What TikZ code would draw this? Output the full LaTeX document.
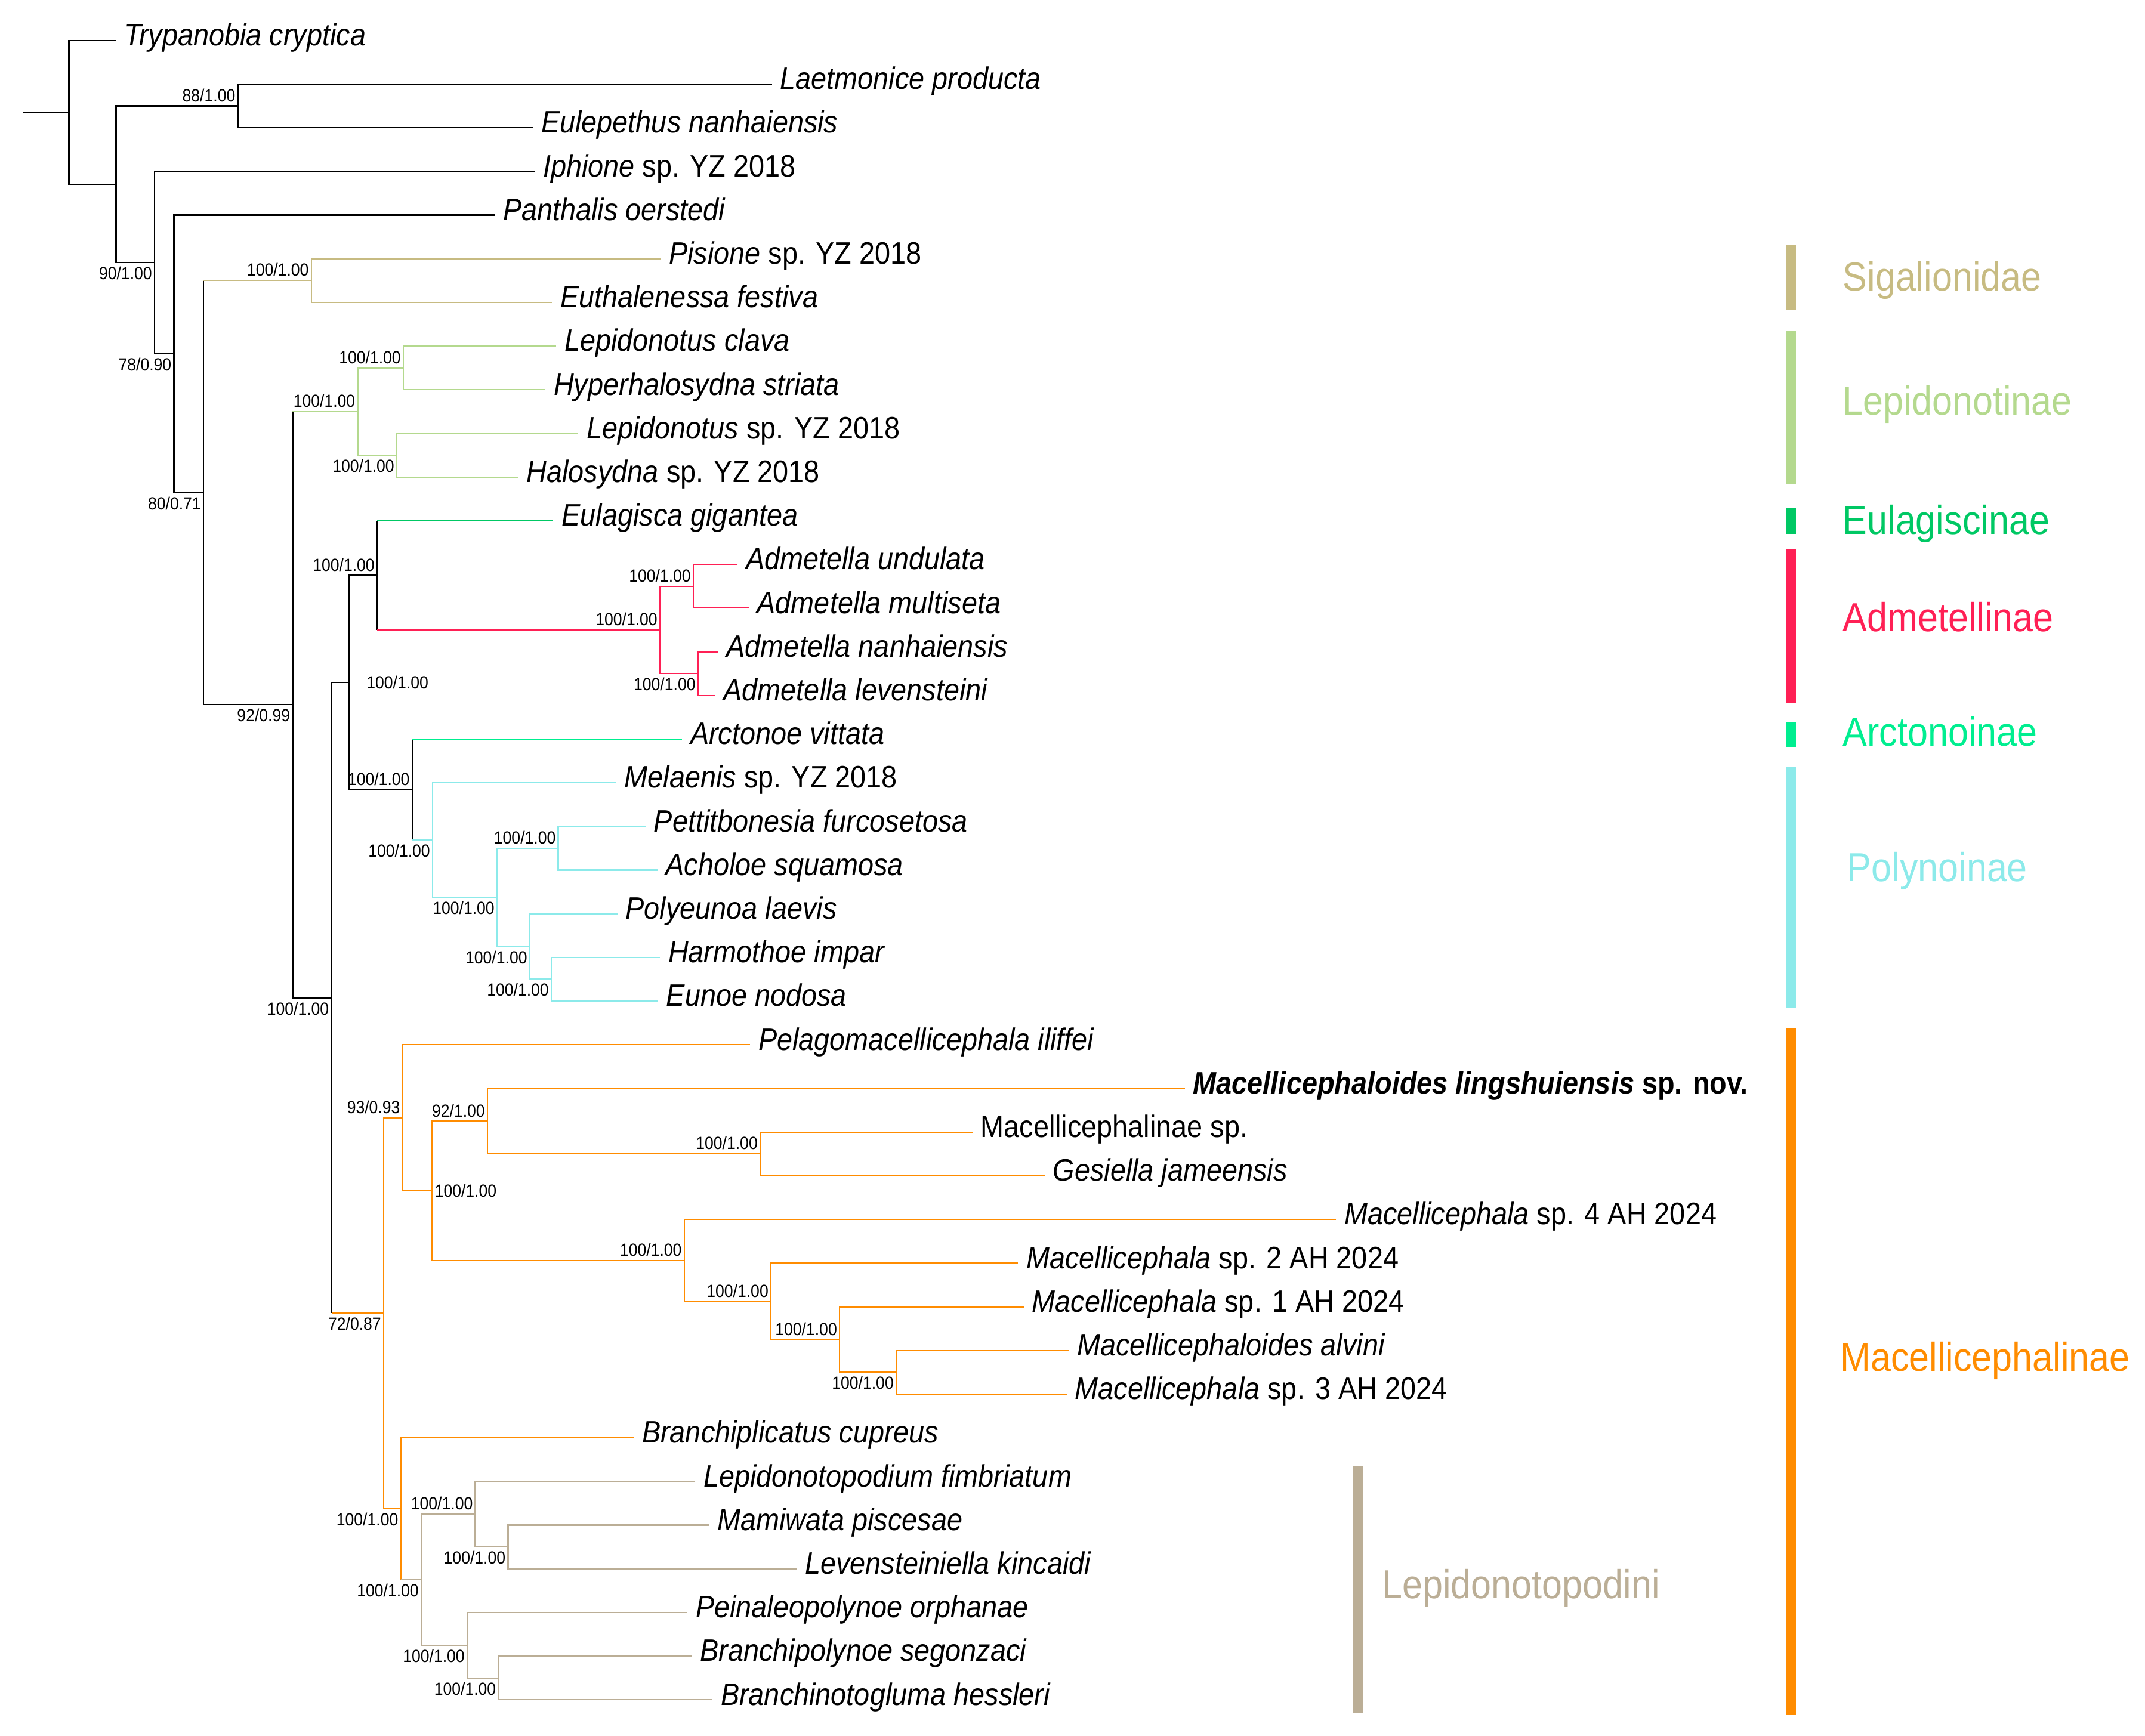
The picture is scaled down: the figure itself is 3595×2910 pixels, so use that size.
\documentclass[tikz,border=0pt]{standalone}
\usepackage{fontspec}
\setmainfont{Liberation Sans}[FakeStretch=0.9]
\definecolor{sigal}{RGB}{199,187,130}
\definecolor{lepid}{RGB}{180,217,142}
\definecolor{eulag}{RGB}{0,200,100}
\definecolor{admet}{RGB}{255,32,85}
\definecolor{arcto}{RGB}{0,238,144}
\definecolor{polyn}{RGB}{140,234,234}
\definecolor{macel}{RGB}{255,140,0}
\definecolor{lepto}{RGB}{187,174,150}
\begin{document}
\begin{tikzpicture}[x=0.01cm, y=-0.01cm,
    taxon/.style={anchor=west, inner xsep=3.8pt, inner ysep=0pt,
      text height=0.8em, text depth=0.3em, font=\fontsize{14.8}{16}\selectfont},
    sup/.style={inner xsep=1pt, inner ysep=1.8pt, font=\fontsize{8.4}{9}\selectfont},
    clade/.style={anchor=west, inner sep=0pt, text height=0.72em, text depth=0pt,
      font=\fontsize{19.3}{21}\selectfont}]
  \useasboundingbox (0,0) rectangle (3595,2910);
  % taxa
  \node[taxon] (tryp) at (194,67.7) {\textit{Trypanobia cryptica}};
  \node[taxon] (laet) at (1293.5,140.9) {\textit{Laetmonice producta}};
  \node[taxon] (eule) at (893,214.1) {\textit{Eulepethus nanhaiensis}};
  \node[taxon] (iphi) at (896,287.3) {\textit{Iphione} sp. YZ 2018};
  \node[taxon] (pant) at (829,360.5) {\textit{Panthalis oerstedi}};
  \node[taxon] (pisi) at (1107,433.7) {\textit{Pisione} sp. YZ 2018};
  \node[taxon] (euth) at (925,506.9) {\textit{Euthalenessa festiva}};
  \node[taxon] (lcla) at (932,580.1) {\textit{Lepidonotus clava}};
  \node[taxon] (hype) at (914,653.3) {\textit{Hyperhalosydna striata}};
  \node[taxon] (lesp) at (969,726.5) {\textit{Lepidonotus} sp. YZ 2018};
  \node[taxon] (halo) at (868.6,799.7) {\textit{Halosydna} sp. YZ 2018};
  \node[taxon] (eula) at (927.4,872.9) {\textit{Eulagisca gigantea}};
  \node[taxon] (aund) at (1236,946.1) {\textit{Admetella undulata}};
  \node[taxon] (amul) at (1254.6,1019.3) {\textit{Admetella multiseta}};
  \node[taxon] (anan) at (1203.6,1092.5) {\textit{Admetella nanhaiensis}};
  \node[taxon] (alev) at (1198.5,1165.7) {\textit{Admetella levensteini}};
  \node[taxon] (arct) at (1143,1238.9) {\textit{Arctonoe vittata}};
  \node[taxon] (mela) at (1032.6,1312.1) {\textit{Melaenis} sp. YZ 2018};
  \node[taxon] (pett) at (1081.8,1385.3) {\textit{Pettitbonesia furcosetosa}};
  \node[taxon] (acho) at (1101.5,1458.5) {\textit{Acholoe squamosa}};
  \node[taxon] (poly) at (1034.6,1531.7) {\textit{Polyeunoa laevis}};
  \node[taxon] (harm) at (1106,1604.9) {\textit{Harmothoe impar}};
  \node[taxon] (euno) at (1102.8,1678.1) {\textit{Eunoe nodosa}};
  \node[taxon] (pela) at (1257,1751.3) {\textit{Pelagomacellicephala iliffei}};
  \node[taxon] (mlin) at (1985.7,1824.5) {\textbf{\textit{Macellicephaloides lingshuiensis} sp. nov.}};
  \node[taxon] (masp) at (1629.5,1897.7) {Macellicephalinae sp.};
  \node[taxon] (gesi) at (1750.6,1970.9) {\textit{Gesiella jameensis}};
  \node[taxon] (mfou) at (2239,2044.1) {\textit{Macellicephala} sp. 4 AH 2024};
  \node[taxon] (mtwo) at (1706,2117.3) {\textit{Macellicephala} sp. 2 AH 2024};
  \node[taxon] (mone) at (1715.6,2190.5) {\textit{Macellicephala} sp. 1 AH 2024};
  \node[taxon] (malv) at (1791,2263.7) {\textit{Macellicephaloides alvini}};
  \node[taxon] (mthr) at (1787.6,2336.9) {\textit{Macellicephala} sp. 3 AH 2024};
  \node[taxon] (bcup) at (1062,2410.1) {\textit{Branchiplicatus cupreus}};
  \node[taxon] (lfim) at (1165,2483.3) {\textit{Lepidonotopodium fimbriatum}};
  \node[taxon] (mami) at (1188,2556.5) {\textit{Mamiwata piscesae}};
  \node[taxon] (lkin) at (1335,2629.7) {\textit{Levensteiniella kincaidi}};
  \node[taxon] (porp) at (1152,2702.9) {\textit{Peinaleopolynoe orphanae}};
  \node[taxon] (bseg) at (1159.4,2776.1) {\textit{Branchipolynoe segonzaci}};
  \node[taxon] (bhes) at (1194,2849.3) {\textit{Branchinotogluma hessleri}};
  % internal nodes
  \coordinate (root) at (38,188.3);
  \coordinate (A) at (115.4,188.3);
  \coordinate (B) at (194.5,308.85);
  \coordinate (C) at (398.6,177.5);
  \coordinate (D) at (259,440.2);
  \coordinate (E) at (291.5,593.15);
  \coordinate (F) at (341,825.8);
  \coordinate (G) at (521.7,470.3);
  \coordinate (H) at (490.4,1181.3);
  \coordinate (I) at (599.5,689.9);
  \coordinate (J) at (676,616.7);
  \coordinate (K) at (665,763.1);
  \coordinate (N) at (555.5,1672.7);
  \coordinate (M) at (585.5,1144);
  \coordinate (L) at (632,964.4);
  \coordinate (FF) at (1106,1055.9);
  \coordinate (GG) at (1162,982.7);
  \coordinate (HH) at (1169.8,1129.1);
  \coordinate (O) at (690.7,1323.55);
  \coordinate (P) at (725,1408.2);
  \coordinate (Q) at (833,1504.25);
  \coordinate (R) at (935.6,1421.9);
  \coordinate (S) at (887.8,1586.6);
  \coordinate (T) at (924,1641.5);
  \coordinate (U) at (643,2201.4);
  \coordinate (V) at (674.7,1873.7);
  \coordinate (W) at (724.5,1996.05);
  \coordinate (X) at (817,1879.4);
  \coordinate (BB) at (1274,1934.3);
  \coordinate (Y) at (1146.7,2112.7);
  \coordinate (CC) at (1292,2181.35);
  \coordinate (DD) at (1407,2245.4);
  \coordinate (EE) at (1502,2300.3);
  \coordinate (Z) at (671.6,2529.05);
  \coordinate (AA) at (706,2648);
  \coordinate (AB) at (796.6,2538.2);
  \coordinate (AC) at (851.4,2593.1);
  \coordinate (AD) at (783,2757.8);
  \coordinate (AE) at (835.5,2812.7);
  % branches
  \begin{scope}[line width=0.65pt]
    \draw (root) -- (A);
    \draw (tryp.west) -| (A) |- (B);
    \draw (C) -| (B) |- (D);
    \draw (laet.west) -| (C) |- (eule.west);
    \draw (iphi.west) -| (D) |- (E);
    \draw (pant.west) -| (E) |- (F);
    \draw (F |- G) |- (H);
    \draw[sigal] (F |- G) -- (G);
    \draw[sigal] (pisi.west) -| (G) |- (euth.west);
    \draw (H |- I) |- (N);
    \draw[lepid] (H |- I) -- (I);
    \draw[lepid] (J) -| (I) |- (K);
    \draw[lepid] (lcla.west) -| (J) |- (hype.west);
    \draw[lepid] (lesp.west) -| (K) |- (halo.west);
    \draw (M) -| (N) -- (N |- U);
    \draw[macel] (N |- U) -- (U);
    \draw (L) -| (M) |- (O);
    \draw (L |- eula.west) -- (L |- FF);
    \draw[eulag] (L |- eula.west) -- (eula.west);
    \draw[admet] (L |- FF) -- (FF);
    \draw[admet] (GG) -| (FF) |- (HH);
    \draw[admet] (aund.west) -| (GG) |- (amul.west);
    \draw[admet] (anan.west) -| (HH) |- (alev.west);
    \draw (O |- arct.west) -- (O |- P);
    \draw[arcto] (O |- arct.west) -- (arct.west);
    \draw[polyn] (O |- P) -- (P);
    \draw[polyn] (mela.west) -| (P) |- (Q);
    \draw[polyn] (R) -| (Q) |- (S);
    \draw[polyn] (pett.west) -| (R) |- (acho.west);
    \draw[polyn] (poly.west) -| (S) |- (T);
    \draw[polyn] (harm.west) -| (T) |- (euno.west);
    \draw[macel] (V) -| (U) |- (Z);
    \draw[macel] (pela.west) -| (V) |- (W);
    \draw[macel] (X) -| (W) |- (Y);
    \draw[macel] (mlin.west) -| (X) |- (BB);
    \draw[macel] (masp.west) -| (BB) |- (gesi.west);
    \draw[macel] (mfou.west) -| (Y) |- (CC);
    \draw[macel] (mtwo.west) -| (CC) |- (DD);
    \draw[macel] (mone.west) -| (DD) |- (EE);
    \draw[macel] (malv.west) -| (EE) |- (mthr.west);
    \draw[macel] (bcup.west) -| (Z) -- (Z |- AA);
    \draw[lepto] (Z |- AA) -- (AA);
    \draw[lepto] (AB) -| (AA) |- (AD);
    \draw[lepto] (lfim.west) -| (AB) |- (AC);
    \draw[lepto] (mami.west) -| (AC) |- (lkin.west);
    \draw[lepto] (porp.west) -| (AD) |- (AE);
    \draw[lepto] (bseg.west) -| (AE) |- (bhes.west);
  \end{scope}
  % support values
  \node[sup, anchor=south east] (sC) at (C) {88/1.00};
  \node[sup, anchor=north east] (sD) at (D) {90/1.00};
  \node[sup, anchor=north east] (sE) at (E) {78/0.90};
  \node[sup, anchor=north east] (sF) at (F) {80/0.71};
  \node[sup, anchor=south east] (sG) at (G) {100/1.00};
  \node[sup, anchor=north east] (sH) at (H) {92/0.99};
  \node[sup, anchor=south east] (sI) at (I) {100/1.00};
  \node[sup, anchor=south east] (sJ) at (J) {100/1.00};
  \node[sup, anchor=north east] (sK) at (K) {100/1.00};
  \node[sup, anchor=north east] (sN) at (N) {100/1.00};
  \node[sup, anchor=west, xshift=7pt] (sM) at (M) {100/1.00};
  \node[sup, anchor=south east] (sL) at (L) {100/1.00};
  \node[sup, anchor=south east] (sFF) at (FF) {100/1.00};
  \node[sup, anchor=south east] (sGG) at (GG) {100/1.00};
  \node[sup, anchor=north east] (sHH) at (HH) {100/1.00};
  \node[sup, anchor=south east] (sO) at (O) {100/1.00};
  \node[sup, anchor=north east] (sP) at (P) {100/1.00};
  \node[sup, anchor=north east] (sQ) at (Q) {100/1.00};
  \node[sup, anchor=south east] (sR) at (R) {100/1.00};
  \node[sup, anchor=north east] (sS) at (S) {100/1.00};
  \node[sup, anchor=north east] (sT) at (T) {100/1.00};
  \node[sup, anchor=north east] (sU) at (U) {72/0.87};
  \node[sup, anchor=south east] (sV) at (V) {93/0.93};
  \node[sup, anchor=west] (sW) at (W) {100/1.00};
  \node[sup, anchor=south east] (sX) at (X) {92/1.00};
  \node[sup, anchor=south east] (sBB) at (BB) {100/1.00};
  \node[sup, anchor=south east] (sY) at (Y) {100/1.00};
  \node[sup, anchor=south east] (sCC) at (CC) {100/1.00};
  \node[sup, anchor=south east] (sDD) at (DD) {100/1.00};
  \node[sup, anchor=north east] (sEE) at (EE) {100/1.00};
  \node[sup, anchor=north east] (sZ) at (Z) {100/1.00};
  \node[sup, anchor=north east] (sAA) at (AA) {100/1.00};
  \node[sup, anchor=south east] (sAB) at (AB) {100/1.00};
  \node[sup, anchor=north east] (sAC) at (AC) {100/1.00};
  \node[sup, anchor=north east] (sAD) at (AD) {100/1.00};
  \node[sup, anchor=north east] (sAE) at (AE) {100/1.00};
  % clade bars
  \fill[sigal] (2994,409.7) rectangle (3009.5,520.5);
  \fill[lepid] (2994,555.5) rectangle (3009.5,812);
  \fill[eulag] (2994,851) rectangle (3009.5,895);
  \fill[admet] (2994,921) rectangle (3009.5,1177.8);
  \fill[arcto] (2994,1211) rectangle (3009.5,1252);
  \fill[polyn] (2994,1286) rectangle (3009.5,1690);
  \fill[macel] (2994,1724) rectangle (3009.5,2875);
  \fill[lepto] (2267.6,2457) rectangle (2283.6,2871);
  \node[clade, text=sigal] (cSig) at (3088,474.5) {Sigalionidae};
  \node[clade, text=lepid] (cLep) at (3088,683) {Lepidonotinae};
  \node[clade, text=eulag] (cEul) at (3088,882.6) {Eulagiscinae};
  \node[clade, text=admet] (cAdm) at (3088,1045.4) {Admetellinae};
  \node[clade, text=arcto] (cArc) at (3088,1238) {Arctonoinae};
  \node[clade, text=polyn] (cPol) at (3095,1465) {Polynoinae};
  \node[clade, text=macel] (cMac) at (3083.5,2286) {Macellicephalinae};
  \node[clade, text=lepto] (cLpd) at (2315.7,2666.6) {Lepidonotopodini};
\end{tikzpicture}
\end{document}
